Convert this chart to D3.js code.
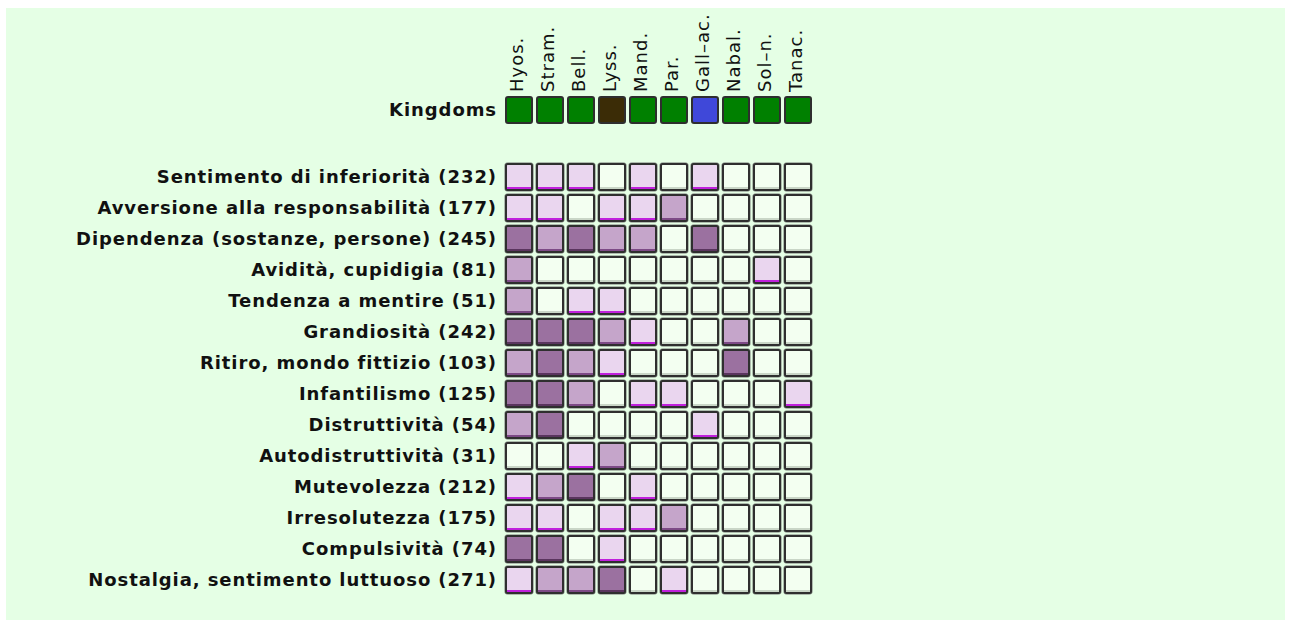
<!DOCTYPE html>
<html><head><meta charset="utf-8">
<script src="https://cdn.jsdelivr.net/npm/d3@7"></script>
<style>body{margin:0;background:#fff}svg{display:block}</style>
</head><body>
<script>
const columns = ["Hyos.","Stram.","Bell.","Lyss.","Mand.","Par.","Gall\u2013ac.","Nabal.","Sol\u2013n.","Tanac."];
const kingdomColors = ["#008000","#008000","#008000","#3b2c06","#008000","#008000","#3f48d9","#008000","#008000","#008000"];
const rowLabels = ["Sentimento di inferiorità (232)","Avversione alla responsabilità (177)","Dipendenza (sostanze, persone) (245)","Avidità, cupidigia (81)","Tendenza a mentire (51)","Grandiosità (242)","Ritiro, mondo fittizio (103)","Infantilismo (125)","Distruttività (54)","Autodistruttività (31)","Mutevolezza (212)","Irresolutezza (175)","Compulsività (74)","Nostalgia, sentimento luttuoso (271)"];
const levels = [
 [1,1,1,0,1,0,1,0,0,0],
 [1,1,0,1,1,2,0,0,0,0],
 [3,2,3,2,2,0,3,0,0,0],
 [2,0,0,0,0,0,0,0,1,0],
 [2,0,1,1,0,0,0,0,0,0],
 [3,3,3,2,1,0,0,2,0,0],
 [2,3,2,1,0,0,0,3,0,0],
 [3,3,2,0,1,1,0,0,0,1],
 [2,3,0,0,0,0,1,0,0,0],
 [0,0,1,2,0,0,0,0,0,0],
 [1,2,3,0,1,0,0,0,0,0],
 [1,1,0,1,1,2,0,0,0,0],
 [3,3,0,1,0,0,0,0,0,0],
 [1,2,2,3,0,1,0,0,0,0]
];
const levelFill = ["#f3fff1","#ead6ef","#c5a5ca","#9b71a0"];
const levelStrip = ["#c9d6c7","#c020dc","#7d4a86","#5a355e"];

const W=1291,H=622;
const svg=d3.select("body").append("svg").attr("width",W).attr("height",H);
svg.append("rect").attr("x",6).attr("y",8).attr("width",1279).attr("height",612).attr("fill","#e5ffe5");

const x=d3.scaleBand().domain(d3.range(columns.length)).range([506,506+31*columns.length-5]).paddingInner(5/31);
const y=d3.scaleBand().domain(d3.range(rowLabels.length)).range([164,164+31*rowLabels.length-5]).paddingInner(5/31);
const bw=x.bandwidth(), bh=y.bandwidth();
const kY=97;
const font="'DejaVu Sans', sans-serif";

// column labels
svg.append("g").selectAll("text").data(columns).join("text")
  .attr("transform",(d,i)=>`translate(${x(i)+bw/2+4},92) rotate(-90)`)
  .attr("font-family",font).attr("font-size",18).attr("letter-spacing",1).attr("fill","#111").text(d=>d);

// kingdoms
svg.append("text").attr("x",497).attr("y",kY+bh/2+6).attr("text-anchor","end")
  .attr("font-family",font).attr("font-weight","bold").attr("font-size",18).attr("letter-spacing",0.92).attr("fill","#111").text("Kingdoms");

svg.append("g").selectAll("rect").data(kingdomColors).join("rect")
  .attr("x",(d,i)=>x(i)).attr("y",kY).attr("width",bw).attr("height",bh).attr("rx",2)
  .attr("fill",d=>d).attr("stroke","#2e2e2e").attr("stroke-width",2);

// row labels
svg.append("g").selectAll("text").data(rowLabels).join("text")
  .attr("x",497).attr("y",(d,i)=>y(i)+bh/2+6).attr("text-anchor","end")
  .attr("font-family",font).attr("font-weight","bold").attr("font-size",18).attr("letter-spacing",0.92).attr("fill","#111").text(d=>d);

// cells
const cells=[];
levels.forEach((r,ri)=>r.forEach((v,ci)=>cells.push({ri,ci,v})));
const g=svg.append("g");
g.selectAll("rect.halo").data(cells).join("rect").attr("class","halo")
  .attr("x",d=>x(d.ci)-0.5).attr("y",d=>y(d.ri)-0.5).attr("width",bw+1).attr("height",bh+1).attr("rx",2.5)
  .attr("fill","none").attr("stroke","#9aa59a").attr("stroke-width",2.5);
g.selectAll("rect.cell").data(cells).join("rect").attr("class","cell")
  .attr("x",d=>x(d.ci)).attr("y",d=>y(d.ri)).attr("width",bw).attr("height",bh).attr("rx",1.5)
  .attr("fill",d=>levelFill[d.v]).attr("stroke","#2f2f2f").attr("stroke-width",2);
g.selectAll("rect.strip").data(cells).join("rect").attr("class","strip")
  .attr("x",d=>x(d.ci)+1).attr("y",d=>y(d.ri)+bh-3).attr("width",bw-2).attr("height",2)
  .attr("fill",d=>levelStrip[d.v]);
</script>
</body></html>
